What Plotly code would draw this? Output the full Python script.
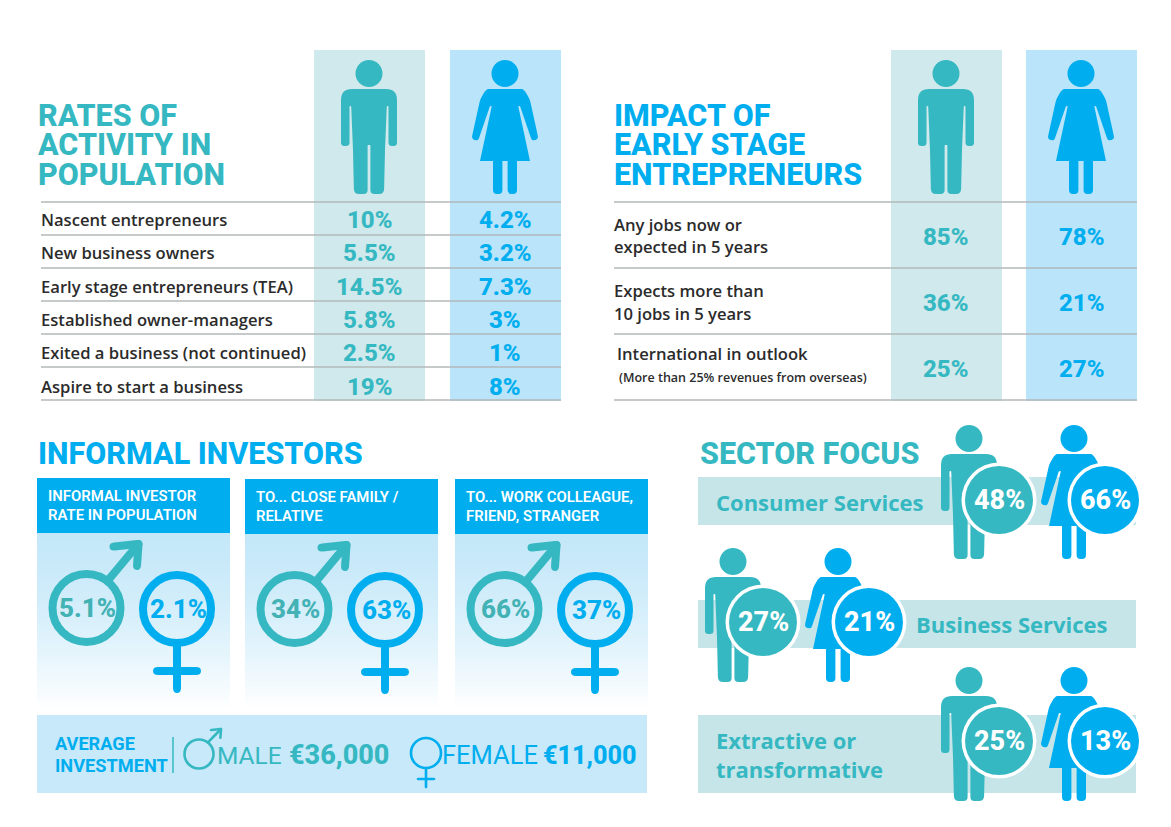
import plotly.graph_objects as go

# ---------- data ----------
activity_labels = ["Nascent entrepreneurs", "New business owners", "Early stage entrepreneurs (TEA)",
                   "Established owner-managers", "Exited a business (not continued)", "Aspire to start a business"]
activity_male = ["10%", "5.5%", "14.5%", "5.8%", "2.5%", "19%"]
activity_female = ["4.2%", "3.2%", "7.3%", "3%", "1%", "8%"]

impact_labels = [["Any jobs now or", "expected in 5 years"], ["Expects more than", "10 jobs in 5 years"],
                 ["International in outlook", "(More than 25% revenues from overseas)"]]
impact_male = ["85%", "36%", "25%"]
impact_female = ["78%", "21%", "27%"]

investor_titles = [["INFORMAL INVESTOR", "RATE IN POPULATION"], ["TO... CLOSE FAMILY /", "RELATIVE"],
                   ["TO... WORK COLLEAGUE,", "FRIEND, STRANGER"]]
investor_male = ["5.1%", "34%", "66%"]
investor_female = ["2.1%", "63%", "37%"]

avg_label = ["AVERAGE", "INVESTMENT"]
avg_male = "€36,000"
avg_female = "€11,000"

sector_names = [["Consumer Services"], ["Business Services"], ["Extractive or", "transformative"]]
sector_male = ["48%", "27%", "25%"]
sector_female = ["66%", "21%", "13%"]

# ---------- style ----------
TEAL = "#35b8c1"
BLUE = "#00aeef"
PALE_TEAL = "#d0e9ec"
PALE_BLUE = "#b9e4fa"
BAR_TEAL = "#c5e5e9"
BANNER = "#c7e9fa"
RULE = "#b3b8b8"
INK = "#2b2b2b"
HEAD = "Roboto"
BODY = "Open Sans"

shapes, notes = [], []


def rect(x0, y0, x1, y1, color):
    shapes.append(dict(type="rect", x0=x0, y0=y0, x1=x1, y1=y1, fillcolor=color, line_width=0))


def circle(cx, cy, r, fill=None, stroke=None, w=0):
    shapes.append(dict(type="circle", x0=cx - r, y0=cy - r, x1=cx + r, y1=cy + r,
                       fillcolor=fill if fill else "rgba(0,0,0,0)",
                       line=dict(color=stroke if stroke else "rgba(0,0,0,0)", width=w)))


def line(x0, y0, x1, y1, color, w):
    shapes.append(dict(type="line", x0=x0, y0=y0, x1=x1, y1=y1, line=dict(color=color, width=w)))


def rounded(pts):
    n = len(pts)
    d = ""
    for i, (x, y, r) in enumerate(pts):
        px, py, _ = pts[i - 1]
        nx, ny, _ = pts[(i + 1) % n]
        l1 = max(((x - px) ** 2 + (y - py) ** 2) ** .5, 1e-6)
        l2 = max(((x - nx) ** 2 + (y - ny) ** 2) ** .5, 1e-6)
        r1, r2 = min(r, l1 / 2), min(r, l2 / 2)
        ax, ay = x + (px - x) / l1 * r1, y + (py - y) / l1 * r1
        bx, by = x + (nx - x) / l2 * r2, y + (ny - y) / l2 * r2
        d += f"{'M' if i == 0 else 'L'}{ax:.2f},{ay:.2f} Q{x:.2f},{y:.2f} {bx:.2f},{by:.2f} "
    return d + "Z"


def poly(pts, color):
    shapes.append(dict(type="path", path=rounded(pts), fillcolor=color, line_width=0))


def capsule(x0, y0, x1, y1, w, color):
    l = ((x1 - x0) ** 2 + (y1 - y0) ** 2) ** .5
    ux, uy = (x1 - x0) / l, (y1 - y0) / l
    nx, ny = -uy * w / 2, ux * w / 2
    ex, ey = ux * w / 2, uy * w / 2
    r = w * .62
    poly([(x0 + nx - ex, y0 + ny - ey, r), (x1 + nx + ex, y1 + ny + ey, r),
          (x1 - nx + ex, y1 - ny + ey, r), (x0 - nx - ex, y0 - ny - ey, r)], color)


MAN_HALF = [(28, 29, 11), (28, 86, 3.5), (19.5, 86, 3.5), (19.5, 46, .7), (17.8, 46, .7), (16, 90, 0),
            (15, 134, 5), (1.4, 134, 4), (1.4, 85, .6)]
WOMAN_HALF = [(14, 29, 0), (19, 29, 9), (25, 40, 3), (33.5, 79, 3), (27, 81, 3), (15, 46, .8), (13.2, 46, .8),
              (25, 101, 0), (12, 101, 0), (12, 134, 4), (2.6, 134, 4), (2.6, 101, 0)]


def person(half, cx, top, color):
    circle(cx, top + 13.5, 13.5, fill=color)
    right = [(cx + x, top + y, r) for x, y, r in half]
    left = [(cx - x, top + y, r) for x, y, r in reversed(half)]
    poly(right + left, color)


def text(x, y, s, size, color, font=BODY, weight=400, anchor="left"):
    notes.append(dict(x=x - (2.5 if anchor == "left" else 0), y=y, text=s, showarrow=False, xanchor=anchor,
                      yanchor="middle", align=anchor,
                      font=dict(family=font, size=size, color=color, weight=weight)))


def male_symbol(cx, cy, r, w, tip, color):
    circle(cx, cy, r, stroke=color, w=w)
    tx, ty = cx + tip[0], cy + tip[1]
    capsule(cx + r * .62, cy - r * .8, tx - 1, ty + 1, w, color)
    capsule(tx - tip[2], ty + tip[2] * .1, tx, ty, w, color)
    capsule(tx, ty, tx - tip[2] * .06, ty + tip[2] * .88, w, color)


def female_symbol(cx, cy, r, w, stem, bar, cross_y, color):
    circle(cx, cy, r, stroke=color, w=w)
    capsule(cx, cy + r + w / 2 - 1, cx, cy + stem, w, color)
    capsule(cx - bar, cy + cross_y, cx + bar, cy + cross_y, w, color)


# ---------- top tables ----------
def columns(xm, xf):
    rect(xm, 50, xm + 111, 401, PALE_TEAL)
    rect(xf, 50, xf + 111, 401, PALE_BLUE)
    person(MAN_HALF, xm + 55, 60, TEAL)
    person(WOMAN_HALF, xf + 55, 60, BLUE)


columns(314, 450)
columns(891, 1026)

for i, s in enumerate(["RATES OF", "ACTIVITY IN", "POPULATION"]):
    text(38, 115 + i * 29.5, s, 30.5, TEAL, HEAD, 800)
for i, s in enumerate(["IMPACT OF", "EARLY STAGE", "ENTREPRENEURS"]):
    text(614, 115 + i * 29.5, s, 30.5, BLUE, HEAD, 800)

for i in range(7):
    line(41, 202 + i * 33, 561, 202 + i * 33, RULE, 1.6)
for i in range(4):
    line(614, 202 + i * 66, 1137, 202 + i * 66, RULE, 1.6)

for i, s in enumerate(activity_labels):
    y = 220 + i * 33.3
    text(41, y - .5, s, 16.6, INK, BODY, 600)
    text(369, y, activity_male[i], 24, TEAL, HEAD, 800, "center")
    text(505, y, activity_female[i], 24, BLUE, HEAD, 800, "center")

for i, lines in enumerate(impact_labels):
    x = [614, 614, 617][i]
    ys = [(224, 246), (290, 313), (353, 377)][i]
    text(x, ys[0], lines[0], 16.6, INK, BODY, 600)
    text(x + (2 if i == 2 else 0), ys[1], lines[1], 12.5 if i == 2 else 16.6, INK, BODY, 600)
    text(945, 236.5 + i * 66, impact_male[i], 24, TEAL, HEAD, 800, "center")
    text(1081, 236.5 + i * 66, impact_female[i], 24, BLUE, HEAD, 800, "center")

# ---------- informal investors ----------
text(38, 453, "INFORMAL INVESTORS", 30.5, BLUE, HEAD, 800)
for k, x0 in enumerate([37, 245, 455]):
    dy = 0 if k == 0 else 1
    rect(x0, 478 + dy, x0 + 193, 533 + dy, BLUE)
    top, bottom = 533 + dy, 708
    step = 3
    y = top
    while y < bottom:
        t = (y - top) / (bottom - top)
        t2 = min(1, t ** 1.5)
        c = tuple(round(a + (255 - a) * t2) for a in (197, 232, 249))
        rect(x0, y, x0 + 193, y + step, f"rgb{c}")
        y += step
    for j, s in enumerate(investor_titles[k]):
        text(x0 + 11, 495.5 + dy + j * 19.5, s, 14.9, "white", HEAD, 600)
    mx, fx = x0 + 49.5, x0 + 140
    male_symbol(mx, 608 + dy, 34, 8, (52, -64, 25), TEAL)
    female_symbol(fx, 609 + dy, 34, 8, 80, 20, 62, BLUE)
    text(mx + 1, 607.5 + dy, investor_male[k], 26, "#42b2b5", HEAD, 800, "center")
    text(fx + 1, 608.5 + dy, investor_female[k], 26, BLUE, HEAD, 800, "center")

rect(37, 715, 647, 793, BANNER)
text(55, 743, avg_label[0], 18.2, BLUE, HEAD, 700)
text(55, 765, avg_label[1], 18.2, BLUE, HEAD, 700)
line(173, 737, 173, 773, TEAL, 1.5)
male_symbol(199, 754, 14.5, 2.6, (22, -25, 10), TEAL)
female_symbol(426, 753, 15, 2.6, 34, 8, 26, BLUE)
text(217, 755, "MALE", 24.5, TEAL, HEAD, 400)
text(289, 755, avg_male, 27, TEAL, HEAD, 800)
text(442, 755, "FEMALE", 25.5, BLUE, HEAD, 400)
text(543, 755, avg_female, 25.2, BLUE, HEAD, 800)

# ---------- sector focus ----------
text(700, 453, "SECTOR FOCUS", 30.5, TEAL, HEAD, 800)
bars = [(477, 525), (600, 648), (715, 793)]
name_pos = [[(716, 502)], [(916, 624)], [(716, 740), (716, 769)]]
fig_pos = [(969, 1074, 425, 999, 1105, 500), (733, 838, 548, 763, 869, 622), (969, 1074, 667, 999, 1105, 741)]
for k in range(3):
    rect(698, bars[k][0], 1136, bars[k][1], BAR_TEAL)
    for (x, y), s in zip(name_pos[k], sector_names[k]):
        text(x, y, s, 22, TEAL, BODY, 700)
    xm, xf, top, cm, cf, cy = fig_pos[k]
    person(MAN_HALF, xm, top, TEAL)
    person(WOMAN_HALF, xf, top, BLUE)
    circle(cm, cy, 37.5, fill="white")
    circle(cm, cy, 34, fill=TEAL)
    circle(cf, cy, 37.5, fill="white")
    circle(cf, cy, 34, fill=BLUE)
    text(cm, cy, sector_male[k], 27, "white", HEAD, 800, "center")
    text(cf, cy, sector_female[k], 27, "white", HEAD, 800, "center")

fig = go.Figure(go.Scatter(x=[0, 1171], y=[0, 827], mode="markers", marker=dict(opacity=0),
                           hoverinfo="skip", showlegend=False))
fig.update_layout(width=1171, height=827, margin=dict(l=0, r=0, t=0, b=0), paper_bgcolor="white",
                  plot_bgcolor="white", shapes=shapes, annotations=notes, showlegend=False,
                  xaxis=dict(range=[0, 1171], visible=False, fixedrange=True),
                  yaxis=dict(range=[827, 0], visible=False, fixedrange=True))
fig.write_html("out.html", config=dict(displayModeBar=False),
               post_script="document.body.style.margin='0';document.body.style.overflow='hidden';")
